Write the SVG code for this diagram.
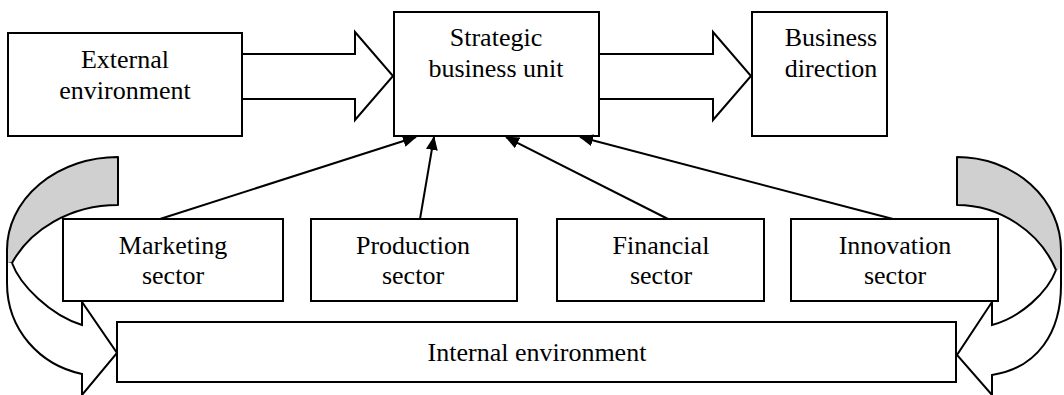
<svg xmlns="http://www.w3.org/2000/svg" width="1064" height="395" viewBox="0 0 1064 395">
  <style>
    .box{fill:#fff;stroke:#000;stroke-width:2}
    .blk{fill:#fff;stroke:#000;stroke-width:2;stroke-linejoin:miter}
    .back{fill:#d0d0d0;stroke:#000;stroke-width:2;stroke-linejoin:round}
    .front{fill:#fff;stroke:#000;stroke-width:2;stroke-linejoin:miter}
    .lbl{font-size:26px;fill:#000;text-anchor:middle}
    .link{stroke:#000;stroke-width:2;fill:none;marker-end:url(#tip)}
  </style>
  <defs>
    <marker id="tip" markerWidth="14" markerHeight="12" refX="13" refY="6" orient="auto" markerUnits="userSpaceOnUse">
      <path d="M0,0 L14,6 L0,12 Z" fill="#000"/>
    </marker>
  </defs>

  <!-- curved feedback arrows around the sectors -->
  <g id="loop-left">
    <path class="back" d="M118,157 A111 93 0 0 0 7,250 L7,263 L12,263 C30,230 70,205 118,205 Z"/>
    <path class="front" d="M12,263 C20,285 50,315 82,325 L82,302 L117,353 L82,395 L82,374 C40,365 7,330 7,283 L7,262"/>
  </g>
  <g id="loop-right">
    <path class="back" d="M957,157 A104 93 0 0 1 1061,250 L1061,270 L1056,270 C1040,232 1000,205 957,205 Z"/>
    <path class="front" d="M1056,270 C1048,292 1020,318 992,325 L992,302 L957,355 L992,395 L992,375 C1038,368 1061,332 1061,285 L1061,268"/>
  </g>

  <!-- block arrows along the top row -->
  <g id="flow-arrows">
    <path class="blk" d="M242,54 L355,54 L355,32 L393,76 L355,120 L355,99 L242,99"/>
    <path class="blk" d="M599,54 L713,54 L713,32 L751,76 L713,120 L713,99 L599,99"/>
  </g>

  <g font-family="'Liberation Serif', 'Times New Roman', Times, 'DejaVu Serif', serif">
    <g id="external">
      <rect class="box" x="8" y="33" width="234" height="103"/>
      <text class="lbl" x="125" y="68">External</text>
      <text class="lbl" x="125" y="99">environment</text>
    </g>
    <g id="sbu">
      <rect class="box" x="394" y="12" width="205" height="124"/>
      <text class="lbl" x="496" y="46">Strategic</text>
      <text class="lbl" x="496" y="77">business unit</text>
    </g>
    <g id="direction">
      <rect class="box" x="752" y="12" width="135" height="124"/>
      <text class="lbl" x="831" y="46">Business</text>
      <text class="lbl" x="831" y="77">direction</text>
    </g>

    <g id="marketing">
      <rect class="box" x="63" y="219" width="220" height="82"/>
      <text class="lbl" x="173" y="254">Marketing</text>
      <text class="lbl" x="173" y="284">sector</text>
    </g>
    <g id="production">
      <rect class="box" x="311" y="219" width="206" height="82"/>
      <text class="lbl" x="413" y="254">Production</text>
      <text class="lbl" x="413" y="284">sector</text>
    </g>
    <g id="financial">
      <rect class="box" x="557" y="219" width="207" height="82"/>
      <text class="lbl" x="661" y="254">Financial</text>
      <text class="lbl" x="661" y="284">sector</text>
    </g>
    <g id="innovation">
      <rect class="box" x="791" y="219" width="207" height="82"/>
      <text class="lbl" x="895" y="254">Innovation</text>
      <text class="lbl" x="895" y="284">sector</text>
    </g>

    <g id="internal">
      <rect class="box" x="117" y="322" width="839" height="60"/>
      <text class="lbl" x="537" y="361">Internal environment</text>
    </g>
  </g>

  <!-- sector links into the business unit -->
  <g id="connectors">
    <path class="link" d="M160,219 L416,137"/>
    <path class="link" d="M420,219 L434,137"/>
    <path class="link" d="M668,219 L506,137"/>
    <path class="link" d="M893,219 L580,137"/>
  </g>
</svg>
